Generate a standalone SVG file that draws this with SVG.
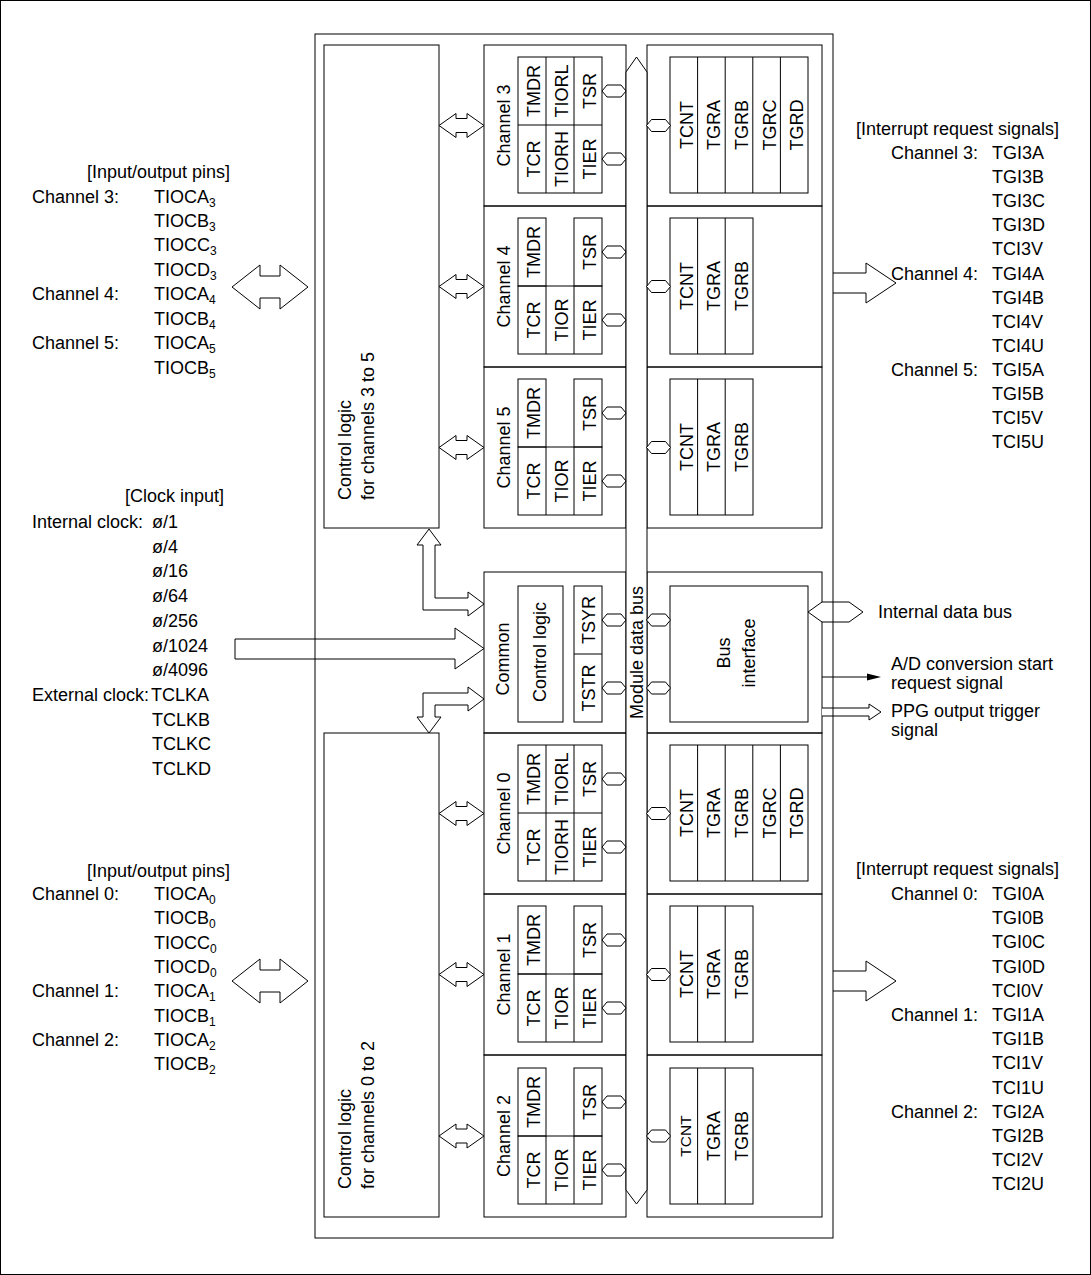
<svg xmlns="http://www.w3.org/2000/svg" width="1091" height="1275" viewBox="0 0 1091 1275">
<style>
.s{fill:none;stroke:#000;stroke-width:1}
.w{fill:#fff;stroke:#000;stroke-width:1}
text{font-family:"Liberation Sans",Arial,sans-serif;font-size:18px;fill:#000}
.m{text-anchor:middle}
.sb{font-size:12px}
.sm{font-size:15.5px}
</style>
<defs>
<polygon id="hx" class="w" points="0,0 5,-6 19,-6 24,0 19,6 5,6"/>
<polygon id="da" class="w" points="0,0 17,-12 17,-7 28,-7 28,-12 45,0 28,12 28,7 17,7 17,12"/>
</defs>
<rect x="0.5" y="0.5" width="1090" height="1274" fill="#fff" stroke="#000" stroke-width="1"/>

<g id="ctl35">
<rect class="s" x="324" y="45" width="115" height="483"/>
<text transform="translate(351,500) rotate(-90)">Control logic</text>
<text transform="translate(374,500) rotate(-90)">for channels 3 to 5</text>
</g>
<g id="ctl02">
<rect class="s" x="324" y="733" width="115" height="484"/>
<text transform="translate(351,1189) rotate(-90)">Control logic</text>
<text transform="translate(374,1189) rotate(-90)">for channels 0 to 2</text>
</g>

<g id="ch3">
<rect class="s" x="484" y="45" width="142" height="161"/>
<rect class="s" x="647" y="45" width="175" height="161"/>
<text class="m" transform="translate(509.5,125.5) rotate(-90)">Channel 3</text>
<rect class="s" x="518" y="57" width="84" height="136"/>
<path class="s" d="M546,57V193M574,57V193M518,125H602"/>
<text class="m" transform="translate(540,91) rotate(-90)">TMDR</text>
<text class="m" transform="translate(568,91) rotate(-90)">TIORL</text>
<text class="m" transform="translate(596,91) rotate(-90)">TSR</text>
<text class="m" transform="translate(540,159) rotate(-90)">TCR</text>
<text class="m" transform="translate(568,159) rotate(-90)">TIORH</text>
<text class="m" transform="translate(596,159) rotate(-90)">TIER</text>
<rect class="s" x="670" y="57" width="138" height="136"/>
<path class="s" d="M697.6,57V193M725.2,57V193M752.8,57V193M780.4,57V193"/>
<text class="m" transform="translate(692.8,125) rotate(-90)">TCNT</text>
<text class="m" transform="translate(720.4,125) rotate(-90)">TGRA</text>
<text class="m" transform="translate(748,125) rotate(-90)">TGRB</text>
<text class="m" transform="translate(775.6,125) rotate(-90)">TGRC</text>
<text class="m" transform="translate(803.2,125) rotate(-90)">TGRD</text>
</g>

<g id="ch4">
<rect class="s" x="484" y="206" width="142" height="161"/>
<rect class="s" x="647" y="206" width="175" height="161"/>
<text class="m" transform="translate(509.5,286.5) rotate(-90)">Channel 4</text>
<rect class="s" x="518" y="218" width="28" height="68"/>
<rect class="s" x="574" y="218" width="28" height="68"/>
<rect class="s" x="518" y="286" width="84" height="68"/>
<path class="s" d="M546,286V354M574,286V354"/>
<text class="m" transform="translate(540,252) rotate(-90)">TMDR</text>
<text class="m" transform="translate(596,252) rotate(-90)">TSR</text>
<text class="m" transform="translate(540,320) rotate(-90)">TCR</text>
<text class="m" transform="translate(568,320) rotate(-90)">TIOR</text>
<text class="m" transform="translate(596,320) rotate(-90)">TIER</text>
<rect class="s" x="670" y="218" width="83" height="136"/>
<path class="s" d="M697.6,218V354M725.2,218V354"/>
<text class="m" transform="translate(692.8,286) rotate(-90)">TCNT</text>
<text class="m" transform="translate(720.4,286) rotate(-90)">TGRA</text>
<text class="m" transform="translate(748,286) rotate(-90)">TGRB</text>
</g>

<g id="ch5">
<rect class="s" x="484" y="367" width="142" height="161"/>
<rect class="s" x="647" y="367" width="175" height="161"/>
<text class="m" transform="translate(509.5,447.5) rotate(-90)">Channel 5</text>
<rect class="s" x="518" y="379" width="28" height="68"/>
<rect class="s" x="574" y="379" width="28" height="68"/>
<rect class="s" x="518" y="447" width="84" height="68"/>
<path class="s" d="M546,447V515M574,447V515"/>
<text class="m" transform="translate(540,413) rotate(-90)">TMDR</text>
<text class="m" transform="translate(596,413) rotate(-90)">TSR</text>
<text class="m" transform="translate(540,481) rotate(-90)">TCR</text>
<text class="m" transform="translate(568,481) rotate(-90)">TIOR</text>
<text class="m" transform="translate(596,481) rotate(-90)">TIER</text>
<rect class="s" x="670" y="379" width="83" height="136"/>
<path class="s" d="M697.6,379V515M725.2,379V515"/>
<text class="m" transform="translate(692.8,447) rotate(-90)">TCNT</text>
<text class="m" transform="translate(720.4,447) rotate(-90)">TGRA</text>
<text class="m" transform="translate(748,447) rotate(-90)">TGRB</text>
</g>

<g id="common">
<rect class="s" x="484" y="572" width="142" height="161"/>
<rect class="s" x="647" y="572" width="175" height="161"/>
<text class="m" transform="translate(508.5,659) rotate(-90)">Common</text>
<rect class="s" x="518" y="586" width="45" height="136"/>
<text class="m" transform="translate(545.5,652) rotate(-90)">Control logic</text>
<rect class="s" x="574" y="586" width="28" height="136"/>
<path class="s" d="M574,654H602"/>
<text class="m" transform="translate(595,620) rotate(-90)">TSYR</text>
<text class="m" transform="translate(595,688) rotate(-90)">TSTR</text>
<rect class="s" x="670" y="586" width="138" height="136"/>
<text class="m" transform="translate(730,653) rotate(-90)">Bus</text>
<text class="m" transform="translate(755,653) rotate(-90)">interface</text>
</g>

<g id="ch0">
<rect class="s" x="484" y="733" width="142" height="161"/>
<rect class="s" x="647" y="733" width="175" height="161"/>
<text class="m" transform="translate(509.5,813.5) rotate(-90)">Channel 0</text>
<rect class="s" x="518" y="745" width="84" height="136"/>
<path class="s" d="M546,745V881M574,745V881M518,813H602"/>
<text class="m" transform="translate(540,779) rotate(-90)">TMDR</text>
<text class="m" transform="translate(568,779) rotate(-90)">TIORL</text>
<text class="m" transform="translate(596,779) rotate(-90)">TSR</text>
<text class="m" transform="translate(540,847) rotate(-90)">TCR</text>
<text class="m" transform="translate(568,847) rotate(-90)">TIORH</text>
<text class="m" transform="translate(596,847) rotate(-90)">TIER</text>
<rect class="s" x="670" y="745" width="138" height="136"/>
<path class="s" d="M697.6,745V881M725.2,745V881M752.8,745V881M780.4,745V881"/>
<text class="m" transform="translate(692.8,813) rotate(-90)">TCNT</text>
<text class="m" transform="translate(720.4,813) rotate(-90)">TGRA</text>
<text class="m" transform="translate(748,813) rotate(-90)">TGRB</text>
<text class="m" transform="translate(775.6,813) rotate(-90)">TGRC</text>
<text class="m" transform="translate(803.2,813) rotate(-90)">TGRD</text>
</g>

<g id="ch1">
<rect class="s" x="484" y="894" width="142" height="161"/>
<rect class="s" x="647" y="894" width="175" height="161"/>
<text class="m" transform="translate(509.5,974.5) rotate(-90)">Channel 1</text>
<rect class="s" x="518" y="906" width="28" height="68"/>
<rect class="s" x="574" y="906" width="28" height="68"/>
<rect class="s" x="518" y="974" width="84" height="68"/>
<path class="s" d="M546,974V1042M574,974V1042"/>
<text class="m" transform="translate(540,940) rotate(-90)">TMDR</text>
<text class="m" transform="translate(596,940) rotate(-90)">TSR</text>
<text class="m" transform="translate(540,1008) rotate(-90)">TCR</text>
<text class="m" transform="translate(568,1008) rotate(-90)">TIOR</text>
<text class="m" transform="translate(596,1008) rotate(-90)">TIER</text>
<rect class="s" x="670" y="906" width="83" height="136"/>
<path class="s" d="M697.6,906V1042M725.2,906V1042"/>
<text class="m" transform="translate(692.8,974) rotate(-90)">TCNT</text>
<text class="m" transform="translate(720.4,974) rotate(-90)">TGRA</text>
<text class="m" transform="translate(748,974) rotate(-90)">TGRB</text>
</g>

<g id="ch2">
<rect class="s" x="484" y="1055" width="142" height="162"/>
<rect class="s" x="647" y="1055" width="175" height="162"/>
<text class="m" transform="translate(509.5,1136) rotate(-90)">Channel 2</text>
<rect class="s" x="518" y="1068" width="28" height="68"/>
<rect class="s" x="574" y="1068" width="28" height="68"/>
<rect class="s" x="518" y="1136" width="84" height="68"/>
<path class="s" d="M546,1136V1204M574,1136V1204"/>
<text class="m" transform="translate(540,1102) rotate(-90)">TMDR</text>
<text class="m" transform="translate(596,1102) rotate(-90)">TSR</text>
<text class="m" transform="translate(540,1170) rotate(-90)">TCR</text>
<text class="m" transform="translate(568,1170) rotate(-90)">TIOR</text>
<text class="m" transform="translate(596,1170) rotate(-90)">TIER</text>
<rect class="s" x="670" y="1068" width="83" height="136"/>
<path class="s" d="M697.6,1068V1204M725.2,1068V1204"/>
<text class="m sm" transform="translate(691,1136) rotate(-90)">TCNT</text>
<text class="m" transform="translate(720.4,1136) rotate(-90)">TGRA</text>
<text class="m" transform="translate(748,1136) rotate(-90)">TGRB</text>
</g>

<g id="bus">
<polygon class="w" points="626,72 636.5,57 647,72 647,1190 636.5,1204 626,1190"/>
<text class="m" transform="translate(643.3,652.5) rotate(-90)">Module data bus</text>
</g>

<g id="connectors">
<use href="#hx" x="602" y="91"/><use href="#hx" x="602" y="159"/><use href="#hx" x="646.5" y="125.5"/>
<use href="#hx" x="602" y="252"/><use href="#hx" x="602" y="320"/><use href="#hx" x="646.5" y="286.5"/>
<use href="#hx" x="602" y="413"/><use href="#hx" x="602" y="481"/><use href="#hx" x="646.5" y="447.5"/>
<use href="#hx" x="602" y="620"/><use href="#hx" x="602" y="688"/><use href="#hx" x="646.5" y="620"/><use href="#hx" x="646.5" y="688"/>
<use href="#hx" x="602" y="779"/><use href="#hx" x="602" y="847"/><use href="#hx" x="646.5" y="813.5"/>
<use href="#hx" x="602" y="940"/><use href="#hx" x="602" y="1008"/><use href="#hx" x="646.5" y="974.5"/>
<use href="#hx" x="602" y="1102"/><use href="#hx" x="602" y="1170"/><use href="#hx" x="646.5" y="1136"/>
<use href="#da" x="439" y="125.5"/><use href="#da" x="439" y="286.5"/><use href="#da" x="439" y="447.5"/>
<use href="#da" x="439" y="813.5"/><use href="#da" x="439" y="974.5"/><use href="#da" x="439" y="1136"/>
<polygon class="w" points="429,529 441,545 435,545 435,598 468,598 468,592 484,604 468,616 468,610 423,610 423,545 417,545"/>
<polygon class="w" points="484,699 468,711 468,705 435,705 435,717 441,717 429,733 417,717 423,717 423,693 468,693 468,687"/>
<polygon class="w" points="232,287 260,265 260,276 280,276 280,265 308,287 280,309 280,298 260,298 260,309"/>
<polygon class="w" points="232,981 260,959 260,970 280,970 280,959 308,981 280,1003 280,992 260,992 260,1003"/>
<path class="w" d="M235,639H455V628L484,648.5L455,669V659H235Z"/>
<path class="w" d="M833,273H866V263L896,283L866,303V293H833"/>
<path class="w" d="M833,971H866V961L896,981L866,1001V991H833"/>
<polygon class="w" points="808,612 822,602 849,602 863,612 849,622 822,622"/>
<path class="s" d="M822,677H868"/>
<polygon points="867,673.5 881,677 867,680.5" fill="#000"/>
<path class="w" d="M822,708H869V704L881,712L869,720V716H822"/>
</g>

<g id="main">
<rect class="s" x="315" y="34" width="518" height="1204"/>
</g>

<g id="labels-left">
<text x="87" y="178">[Input/output pins]</text>
<text x="32" y="202.5">Channel 3:</text><text x="154" y="202.5">TIOCA<tspan class="sb" dy="4">3</tspan></text>
<text x="154" y="227">TIOCB<tspan class="sb" dy="4">3</tspan></text>
<text x="154" y="251.4">TIOCC<tspan class="sb" dy="4">3</tspan></text>
<text x="154" y="275.8">TIOCD<tspan class="sb" dy="4">3</tspan></text>
<text x="32" y="300.3">Channel 4:</text><text x="154" y="300.3">TIOCA<tspan class="sb" dy="4">4</tspan></text>
<text x="154" y="324.7">TIOCB<tspan class="sb" dy="4">4</tspan></text>
<text x="32" y="349.2">Channel 5:</text><text x="154" y="349.2">TIOCA<tspan class="sb" dy="4">5</tspan></text>
<text x="154" y="373.6">TIOCB<tspan class="sb" dy="4">5</tspan></text>

<text x="125" y="501.5">[Clock input]</text>
<text x="32" y="528">Internal clock:</text><text x="152" y="528">ø/1</text>
<text x="152" y="552.7">ø/4</text>
<text x="152" y="577.4">ø/16</text>
<text x="152" y="602.1">ø/64</text>
<text x="152" y="626.8">ø/256</text>
<text x="152" y="651.5">ø/1024</text>
<text x="152" y="676.2">ø/4096</text>
<text x="32" y="700.9">External clock:</text><text x="151" y="700.9">TCLKA</text>
<text x="152" y="725.6">TCLKB</text>
<text x="152" y="750.3">TCLKC</text>
<text x="152" y="775">TCLKD</text>

<text x="87" y="876.5">[Input/output pins]</text>
<text x="32" y="900">Channel 0:</text><text x="154" y="900">TIOCA<tspan class="sb" dy="4">0</tspan></text>
<text x="154" y="924.3">TIOCB<tspan class="sb" dy="4">0</tspan></text>
<text x="154" y="948.6">TIOCC<tspan class="sb" dy="4">0</tspan></text>
<text x="154" y="972.9">TIOCD<tspan class="sb" dy="4">0</tspan></text>
<text x="32" y="997.2">Channel 1:</text><text x="154" y="997.2">TIOCA<tspan class="sb" dy="4">1</tspan></text>
<text x="154" y="1021.5">TIOCB<tspan class="sb" dy="4">1</tspan></text>
<text x="32" y="1045.8">Channel 2:</text><text x="154" y="1045.8">TIOCA<tspan class="sb" dy="4">2</tspan></text>
<text x="154" y="1070.1">TIOCB<tspan class="sb" dy="4">2</tspan></text>
</g>

<g id="labels-right">
<text x="856" y="134.5">[Interrupt request signals]</text>
<text x="891" y="159">Channel 3:</text><text x="992" y="159">TGI3A</text>
<text x="992" y="183.1">TGI3B</text>
<text x="992" y="207.2">TGI3C</text>
<text x="992" y="231.3">TGI3D</text>
<text x="992" y="255.4">TCI3V</text>
<text x="891" y="279.5">Channel 4:</text><text x="992" y="279.5">TGI4A</text>
<text x="992" y="303.6">TGI4B</text>
<text x="992" y="327.7">TCI4V</text>
<text x="992" y="351.8">TCI4U</text>
<text x="891" y="375.9">Channel 5:</text><text x="992" y="375.9">TGI5A</text>
<text x="992" y="400">TGI5B</text>
<text x="992" y="424.1">TCI5V</text>
<text x="992" y="448.2">TCI5U</text>

<text x="878" y="618">Internal data bus</text>
<text x="891" y="669.5">A/D conversion start</text>
<text x="891" y="688.5">request signal</text>
<text x="891" y="717">PPG output trigger</text>
<text x="891" y="736">signal</text>

<text x="856" y="874.5">[Interrupt request signals]</text>
<text x="891" y="900">Channel 0:</text><text x="992" y="900">TGI0A</text>
<text x="992" y="924.2">TGI0B</text>
<text x="992" y="948.4">TGI0C</text>
<text x="992" y="972.6">TGI0D</text>
<text x="992" y="996.8">TCI0V</text>
<text x="891" y="1021">Channel 1:</text><text x="992" y="1021">TGI1A</text>
<text x="992" y="1045.2">TGI1B</text>
<text x="992" y="1069.4">TCI1V</text>
<text x="992" y="1093.6">TCI1U</text>
<text x="891" y="1117.8">Channel 2:</text><text x="992" y="1117.8">TGI2A</text>
<text x="992" y="1142">TGI2B</text>
<text x="992" y="1166.2">TCI2V</text>
<text x="992" y="1190.4">TCI2U</text>
</g>
</svg>
